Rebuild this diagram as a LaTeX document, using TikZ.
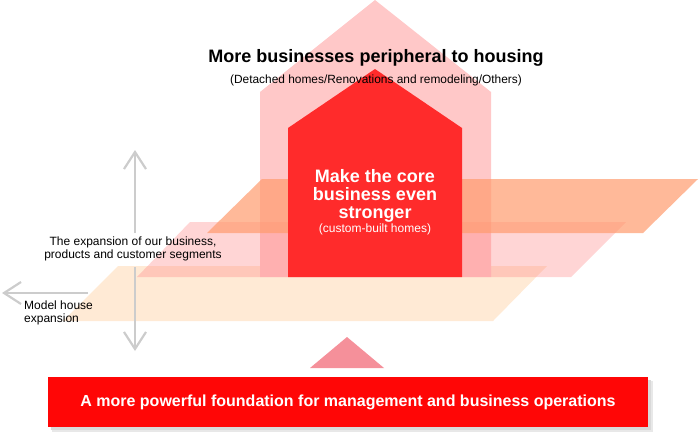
\documentclass[tikz,border=0pt]{standalone}
\usepackage{fontspec}
\setmainfont{Liberation Sans}
\usetikzlibrary{arrows.meta}
\definecolor{palehouse}{RGB}{255,200,200}
\definecolor{corered}{RGB}{255,43,43}
\definecolor{pinkpl}{RGB}{255,128,128}
\definecolor{orangepl}{RGB}{255,155,110}
\definecolor{beigepl}{RGB}{255,234,213}
\definecolor{tricol}{RGB}{245,144,154}
\definecolor{barred}{RGB}{255,6,6}
\definecolor{arrowgray}{RGB}{204,204,204}
\tikzset{
  garrow/.style={draw=arrowgray, line width=2.2pt, -{Straight Barb[length=17pt,width=22pt,line width=2.2pt]}},
  txt/.style={inner sep=0pt, align=center, text=black},
}
\begin{document}
\begin{tikzpicture}[x=1pt,y=-1pt]
\useasboundingbox (0,0) rectangle (700,436);
% beige parallelogram
\fill[beigepl] (63,321) -- (493,321) -- (547,266) -- (118,266) -- cycle;
% pale big house
\fill[palehouse] (260,277) -- (260,92) -- (375,0) -- (491,92) -- (491,277) -- cycle;
% light pink parallelogram
\fill[pinkpl, opacity=0.33] (137,277) -- (571,277) -- (626,222) -- (190,222) -- cycle;
% orange parallelogram
\fill[orangepl, opacity=0.7] (207,233) -- (643,233) -- (698,179) -- (262,179) -- cycle;
% core red house
\fill[corered] (288,277) -- (288,128) -- (375,69) -- (462,128) -- (462,277) -- cycle;
% triangle
\fill[tricol] (310,368) -- (347,337) -- (384,368) -- cycle;
% bar shadow
\fill[gray!18] (52,381) rectangle (653,432);
\fill[gray!30] (51,380) rectangle (651,430);
\node[fill=barred, minimum width=600pt, minimum height=50pt, inner sep=0pt, text=white,
      font=\bfseries\fontsize{16}{18}\selectfont] (bar) at (348,402)
  {\raisebox{-1.5pt}{A more powerful foundation for management and business operations}};
% texts
\node[txt, font=\bfseries\fontsize{18}{20}\selectfont] (title) at (376,58) {More businesses peripheral to housing};
\node[txt, font=\fontsize{11.9}{13}\selectfont] (sub) at (376,80) {(Detached homes/Renovations and remodeling/Others)};
\node[txt, text=white, font=\bfseries\fontsize{18}{18}\selectfont] (core) at (375,196) {Make the core\\business even\\stronger};
\node[txt, text=white, font=\fontsize{12}{13}\selectfont] (custom) at (375,229) {(custom-built homes)};
\node[txt, font=\fontsize{12}{12.5}\selectfont] (exp) at (133,249) {The expansion of our business,\\products and customer segments};
\node[txt, align=left, anchor=west, font=\fontsize{12}{12.5}\selectfont] (model) at (24,313) {Model house\\expansion};
% arrows
\coordinate (vtopA) at (135,233);
\coordinate (vtop) at (135,150);
\coordinate (vbotA) at (135,267);
\coordinate (vbot) at (135,351);
\coordinate (hA) at (88,293);
\coordinate (hB) at (2,293);
\draw[garrow] (vtopA) -- (vtop);
\draw[garrow] (vbotA) -- (vbot);
\draw[garrow] (hA) -- (hB);
\end{tikzpicture}
\end{document}
